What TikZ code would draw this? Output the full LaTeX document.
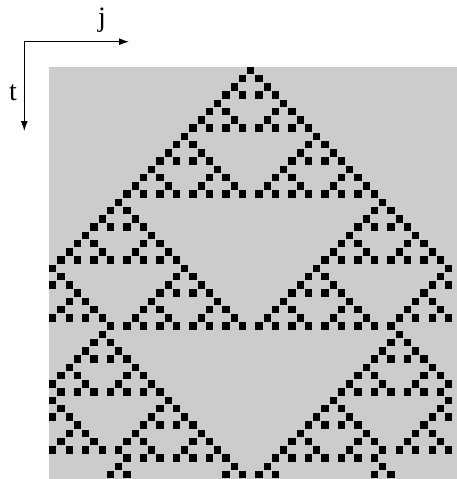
\documentclass[tikz,border=0pt]{standalone}
\usepackage{fontspec}
\setmainfont{Liberation Serif}
\usetikzlibrary{arrows.meta}
\definecolor{cagray}{HTML}{CCCCCC}
\newcommand\cellval[2]{\ifcsname ca-#1-#2\endcsname\csname ca-#1-#2\endcsname\else0\fi}

\begin{document}
\begin{tikzpicture}[x=1pt,y=-1pt,
	cell/.style={fill=black},
	axis/.style={line width=1.1pt,-{Latex[length=10pt,width=7pt]}},
	every node/.style={font=\fontsize{28}{30}\selectfont, inner sep=0pt}]
	\useasboundingbox (0,0) rectangle (456,479);
	\fill[cagray] (49,66.7) rectangle (457,479);
	% rule 90 from one seed, cells outside the 49 columns count as 0
	\expandafter\xdef\csname ca-0-24\endcsname{1}
	\fill[cell] ({49+24*8.25},66.7) rectangle ++(7.4,7.4);
	\foreach \r in {1,...,49}{
		\foreach \c in {0,...,48}{
			\edef\rp{\the\numexpr\r-1\relax}
			\edef\cleft{\the\numexpr\c-1\relax}
			\edef\cright{\the\numexpr\c+1\relax}
			\edef\sumv{\the\numexpr\cellval{\rp}{\cleft}+\cellval{\rp}{\cright}\relax}
			\ifnum\sumv=1
				\expandafter\xdef\csname ca-\r-\c\endcsname{1}
				\fill[cell] ({49+\c*8.25},{66.7+\r*8.25}) rectangle ++(7.4,7.4);
			\else
				\expandafter\xdef\csname ca-\r-\c\endcsname{0}
			\fi
		}
	}
	\coordinate (origin) at (24.3,41.7);
	\coordinate (jtip) at (129,41.7);
	\coordinate (ttip) at (24.3,131);
	\draw[axis] (origin) -- (jtip);
	\draw[axis] (origin) -- (ttip);
	\node (jlabel) at (102,20) {j};
	\node (tlabel) at (13,93) {t};
\end{tikzpicture}
\end{document}
